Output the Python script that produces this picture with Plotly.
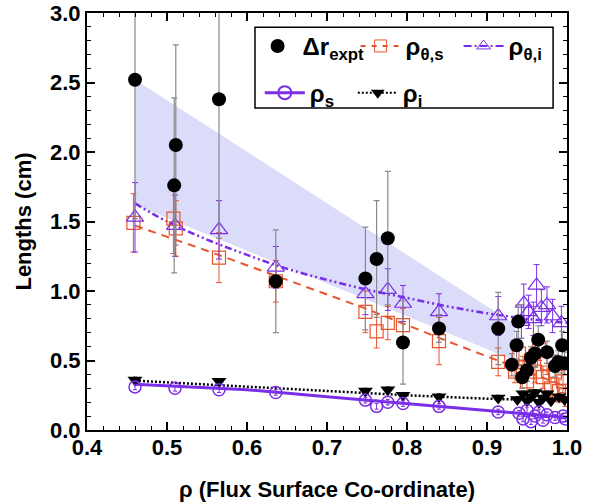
import plotly.graph_objects as go

# ---------------- data ----------------
# Experimental radial correlation lengths (black filled circles)
dr_x = [0.46, 0.509, 0.511, 0.565, 0.636, 0.748, 0.762, 0.776, 0.795, 0.84, 0.914,
        0.931, 0.937, 0.939, 0.944, 0.95, 0.955, 0.96, 0.964, 0.975, 0.985, 0.989, 0.994, 0.997]
dr_y = [2.52, 1.76, 2.05, 2.38, 1.07, 1.09, 1.23, 1.38, 0.63, 0.73, 0.73,
        0.47, 0.61, 0.78, 0.38, 0.43, 0.52, 0.55, 0.65, 0.56, 0.46, 0.49, 0.61, 0.48]
dr_err = [1.0, 0.63, 0.72, 1.0, 0.37, 0.37, 0.42, 0.48, 0.30, 0.10, 0.26,
          0.08, 0.10, 0.12, 0.08, 0.08, 0.08, 0.10, 0.10, 0.08, 0.08, 0.08, 0.10, 0.08]

# rho_theta,s (open squares)
ts_x = [0.458, 0.508, 0.511, 0.565, 0.636, 0.748, 0.762, 0.776, 0.795, 0.84, 0.914,
        0.935, 0.94, 0.945, 0.95, 0.955, 0.96, 0.965, 0.97, 0.975, 0.98, 0.985, 0.99, 0.995, 0.998]
ts_y = [1.49, 1.52, 1.45, 1.24, 1.07, 0.85, 0.71, 0.77, 0.755, 0.64, 0.49,
        0.42, 0.55, 0.45, 0.35, 0.50, 0.42, 0.58, 0.38, 0.48, 0.30, 0.42, 0.28, 0.35, 0.25]
ts_err = [0.21, 0.25, 0.20, 0.18, 0.15, 0.15, 0.12, 0.12, 0.12, 0.17, 0.10,
          0.08, 0.08, 0.08, 0.08, 0.08, 0.08, 0.08, 0.08, 0.08, 0.08, 0.08, 0.08, 0.08, 0.08]

# rho_theta,i (open triangles up)
ti_x = [0.46, 0.51, 0.565, 0.636, 0.748, 0.776, 0.795, 0.84, 0.914,
        0.943, 0.946, 0.952, 0.958, 0.962, 0.968, 0.975, 0.982, 0.993]
ti_y = [1.53, 1.47, 1.44, 1.17, 0.98, 1.01, 0.91, 0.85, 0.82,
        0.78, 0.91, 0.85, 0.80, 1.04, 0.88, 0.90, 0.82, 0.77]
ti_err = [0.25, 0.22, 0.21, 0.15, 0.15, 0.15, 0.13, 0.13, 0.14,
          0.12, 0.14, 0.12, 0.12, 0.15, 0.13, 0.13, 0.12, 0.12]

# rho_s (open circles)
rs_x = [0.46, 0.51, 0.565, 0.636, 0.748, 0.762, 0.776, 0.795, 0.84, 0.914,
        0.94, 0.945, 0.95, 0.955, 0.96, 0.965, 0.97, 0.975, 0.985, 0.995, 0.998]
rs_y = [0.31, 0.30, 0.29, 0.27, 0.215, 0.17, 0.20, 0.19, 0.17, 0.13,
        0.12, 0.08, 0.14, 0.06, 0.10, 0.13, 0.07, 0.11, 0.09, 0.10, 0.08]

# rho_i (filled triangles down)
ri_x = [0.46, 0.565, 0.748, 0.776, 0.795, 0.84, 0.914,
        0.938, 0.945, 0.95, 0.955, 0.96, 0.965, 0.97, 0.975, 0.98, 0.99, 0.997]
ri_y = [0.36, 0.35, 0.28, 0.29, 0.25, 0.24, 0.23,
        0.22, 0.26, 0.21, 0.24, 0.27, 0.20, 0.23, 0.26, 0.21, 0.24, 0.22]

# fitted curves
fit_ti_x = [0.46, 0.50, 0.55, 0.60, 0.65, 0.70, 0.75, 0.80, 0.85, 0.90, 0.95, 1.00]
fit_ti_y = [1.63, 1.50, 1.37, 1.26, 1.16, 1.08, 1.01, 0.95, 0.89, 0.84, 0.80, 0.77]
fit_ts_x = [0.46, 0.55, 0.65, 0.75, 0.85, 0.95, 1.00]
fit_ts_y = [1.47, 1.29, 1.08, 0.87, 0.64, 0.42, 0.31]
fit_rs_x = [0.46, 0.60, 0.70, 0.80, 0.90, 1.00]
fit_rs_y = [0.33, 0.29, 0.24, 0.19, 0.14, 0.09]
fit_ri_x = [0.46, 0.60, 0.70, 0.80, 0.90, 1.00]
fit_ri_y = [0.355, 0.31, 0.28, 0.25, 0.225, 0.21]

# shaded band
band_x = [0.46, 0.935, 0.935, 0.46]
band_y = [2.52, 0.76, 0.50, 1.62]

x_ticks = [0.4, 0.5, 0.6, 0.7, 0.8, 0.9, 1.0]
y_ticks = [0.0, 0.5, 1.0, 1.5, 2.0, 2.5, 3.0]

# ---------------- style ----------------
ORANGE = "#e8552c"
PURPLE = "#7b2ee8"
GREY = "#8a8a8a"
FONT = "Liberation Sans, Arial, sans-serif"

fig = go.Figure()

fig.add_trace(go.Scatter(x=band_x, y=band_y, fill="toself", mode="lines",
                         line=dict(width=0), fillcolor="rgb(218,220,250)",
                         showlegend=False, hoverinfo="skip"))

# fit lines
fig.add_trace(go.Scatter(x=fit_ts_x, y=fit_ts_y, mode="lines", showlegend=False,
                         line=dict(color=ORANGE, width=2, dash="8px,6px")))
fig.add_trace(go.Scatter(x=fit_ti_x, y=fit_ti_y, mode="lines", showlegend=False,
                         line=dict(color=PURPLE, width=2.5, dash="7px,3px,2px,3px,2px,3px"),
                         line_shape="spline"))
fig.add_trace(go.Scatter(x=fit_rs_x, y=fit_rs_y, mode="lines", showlegend=False,
                         line=dict(color=PURPLE, width=3)))
fig.add_trace(go.Scatter(x=fit_ri_x, y=fit_ri_y, mode="lines", showlegend=False,
                         line=dict(color="black", width=2.5, dash="2px,2px")))

# data markers
fig.add_trace(go.Scatter(x=ts_x, y=ts_y, mode="markers", showlegend=False,
                         marker=dict(symbol="square-open", size=13, color=ORANGE, line=dict(width=1.2)),
                         error_y=dict(array=ts_err, color=ORANGE, thickness=1, width=3)))
fig.add_trace(go.Scatter(x=ti_x, y=ti_y, mode="markers", showlegend=False,
                         marker=dict(symbol="triangle-up-open", size=15, color=PURPLE, line=dict(width=1.2)),
                         error_y=dict(array=ti_err, color=PURPLE, thickness=1, width=3)))
fig.add_trace(go.Scatter(x=dr_x, y=dr_y, mode="markers", showlegend=False,
                         marker=dict(symbol="circle", size=14, color="black"),
                         error_y=dict(array=dr_err, color=GREY, thickness=1.2, width=3)))
fig.add_trace(go.Scatter(x=ri_x, y=ri_y, mode="markers", showlegend=False,
                         marker=dict(symbol="triangle-down", size=13, color="black"),
                         error_y=dict(array=[0.02] * len(ri_x), color="black", thickness=1, width=2)))
fig.add_trace(go.Scatter(x=rs_x, y=rs_y, mode="markers", showlegend=False,
                         marker=dict(symbol="circle-open", size=12, color=PURPLE, line=dict(width=1.5)),
                         error_y=dict(array=[0.02] * len(rs_x), color=PURPLE, thickness=1, width=2)))

# legend entries
fig.add_trace(go.Scatter(x=[None], y=[None], mode="markers", name="Δr<sub>expt</sub>",
                         marker=dict(symbol="circle", size=14, color="black"), legend="legend"))
fig.add_trace(go.Scatter(x=[None], y=[None], mode="lines+markers", name="ρ<sub>θ,s</sub>",
                         line=dict(color=ORANGE, width=2, dash="5px,6px"),
                         marker=dict(symbol="square-open", size=12, color=ORANGE), legend="legend"))
fig.add_trace(go.Scatter(x=[None], y=[None], mode="lines+markers", name="ρ<sub>θ,i</sub>",
                         line=dict(color=PURPLE, width=2, dash="8px,3px,2px,3px"),
                         marker=dict(symbol="triangle-up-open", size=12, color=PURPLE), legend="legend"))
fig.add_trace(go.Scatter(x=[None], y=[None], mode="lines+markers", name="ρ<sub>s</sub>",
                         line=dict(color=PURPLE, width=3),
                         marker=dict(symbol="circle-open", size=13, color=PURPLE, line=dict(width=2)),
                         legend="legend2"))
fig.add_trace(go.Scatter(x=[None], y=[None], mode="lines+markers", name="ρ<sub>i</sub>",
                         line=dict(color="black", width=2, dash="2px,2px"),
                         marker=dict(symbol="triangle-down", size=12, color="black"), legend="legend2"))

axis_common = dict(showline=True, linecolor="black", linewidth=2, mirror="ticks",
                   ticks="inside", ticklen=8, tickwidth=1.5, tickcolor="black",
                   showgrid=False, zeroline=False, automargin=False,
                   tickfont=dict(family=FONT, size=22, color="black", weight="bold"))

fig.update_xaxes(range=[0.4, 1.0], tickvals=x_ticks, ticktext=[f"{v:.1f}" for v in x_ticks],
                 minor=dict(ticks="inside", dtick=0.02, ticklen=4, tickcolor="black", tickwidth=1),
                 ticklabelstandoff=-3,
                 title=dict(text="ρ (Flux Surface Co-ordinate)", standoff=22,
                            font=dict(family=FONT, size=22, color="black", weight="bold")),
                 **axis_common)
fig.update_yaxes(range=[0.0, 3.0], tickvals=y_ticks, ticktext=[f"{v:.1f}" for v in y_ticks],
                 minor=dict(ticks="inside", dtick=0.1, ticklen=4, tickcolor="black", tickwidth=1),
                 title=dict(text="Lengths (cm)", standoff=12,
                            font=dict(family=FONT, size=22, color="black", weight="bold")),
                 **axis_common)

legend_font = dict(family=FONT, size=24, color="black", weight="bold")
fig.update_layout(
    width=593, height=504,
    margin=dict(l=87, r=26, t=13, b=74),
    paper_bgcolor="white", plot_bgcolor="white",
    legend=dict(orientation="h", x=0.345, y=0.92, xanchor="left", yanchor="middle",
                bgcolor="rgba(0,0,0,0)", font=legend_font, entrywidth=48, itemwidth=40,
                itemsizing="trace", tracegroupgap=0),
    legend2=dict(orientation="h", x=0.36, y=0.808, xanchor="left", yanchor="middle",
                 bgcolor="rgba(0,0,0,0)", font=legend_font, entrywidth=38, itemwidth=40,
                 itemsizing="trace"),
    shapes=[dict(type="rect", xref="paper", yref="paper", x0=0.35, x1=0.971, y0=0.772, y1=0.966,
                 line=dict(color="black", width=1.5), fillcolor="white", layer="above")],
)

fig.write_html("out.html", config={"displayModeBar": False},
               post_script="document.body.style.margin='0px';")
